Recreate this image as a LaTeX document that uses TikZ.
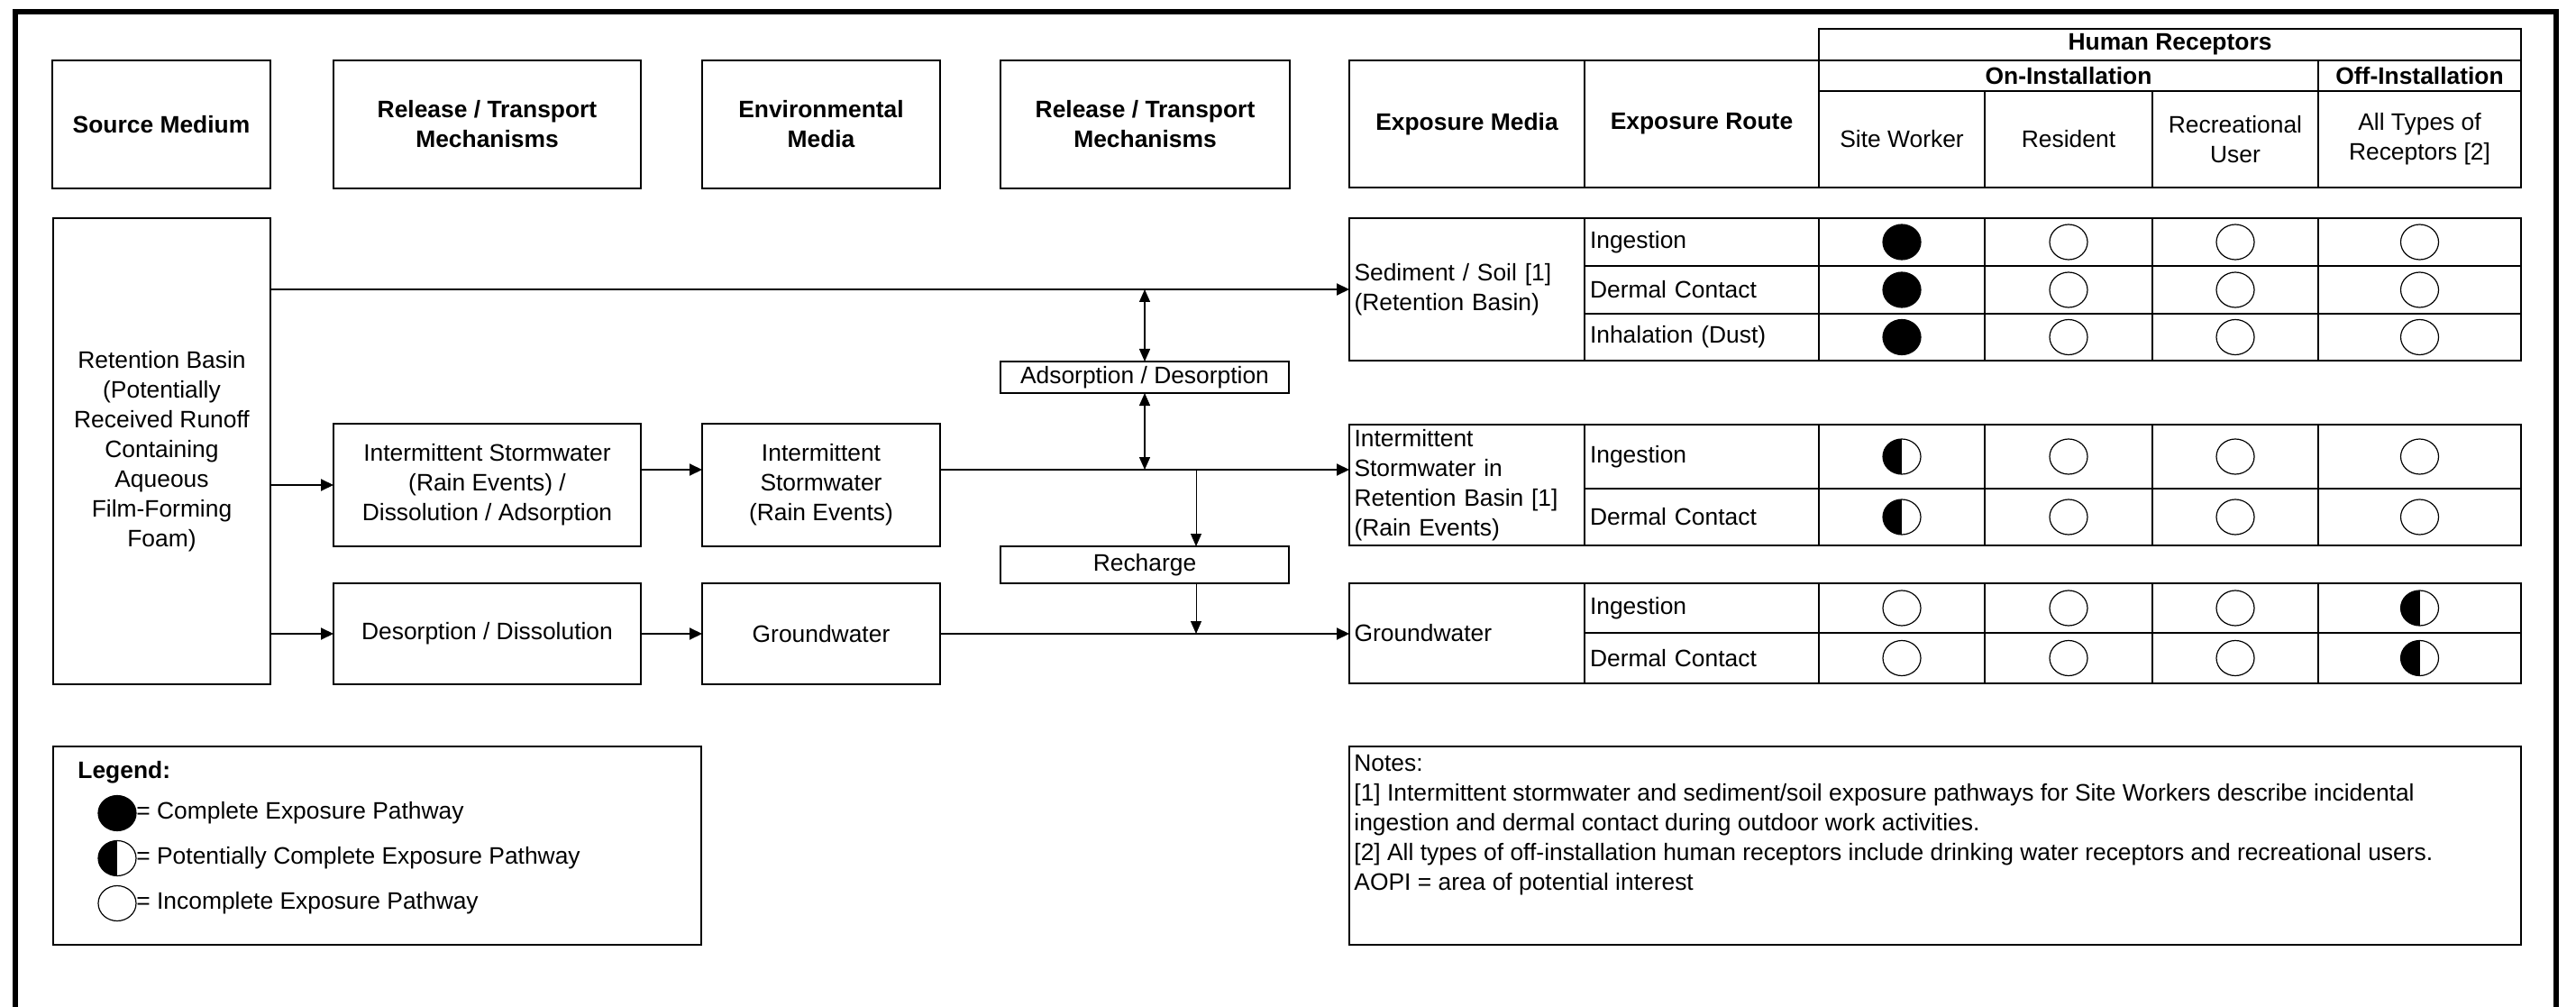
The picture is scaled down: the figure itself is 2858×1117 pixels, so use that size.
\documentclass[tikz,border=0pt]{standalone}
\usepackage{fontspec}
\setmainfont{Liberation Sans}
\usetikzlibrary{arrows.meta,shapes.geometric,calc}

\newcommand\basesize{\fontsize{13.2}{16.5}\selectfont}
% cell: options, name, x1, y1, x2, y2, text  (pixel-style coordinates)
\newcommand\cellat[7]{%
  \node[#1, minimum width={(#5-#3)*0.5pt}, minimum height={(#6-#4)*0.5pt}]
    (#2) at ({(#3+#5)/2},{(#4+#6)/2}) {#7};}
% one exposure-route row: name, y top, y bottom, route, four pathway marks
\newcommand\exprow[8]{%
  \cellat{rcell}{#1r}{1758}{#2}{2018}{#3}{#4}
  \cellat{box}{#1a}{2018}{#2}{2202}{#3}{}
  \cellat{box}{#1b}{2202}{#2}{2388}{#3}{}
  \cellat{box}{#1c}{2388}{#2}{2572}{#3}{}
  \cellat{box}{#1d}{2572}{#2}{2797}{#3}{}
  \node[#5] (#1ma) at (#1a) {};
  \node[#6] (#1mb) at (#1b) {};
  \node[#7] (#1mc) at (#1c) {};
  \node[#8] (#1md) at (#1d) {};}

\tikzset{
  box/.style={draw, line width=1.4pt, align=center, inner sep=2pt, outer sep=0pt},
  hdr/.style={box, font=\basesize\bfseries},
  mcell/.style={box, text width=125pt, inner xsep=2.5pt, align=left},
  rcell/.style={box, text width=124pt, inner xsep=3pt, align=left},
  flow/.style={line width=1pt, -{Triangle[length=7pt,width=6.5pt]}},
  thinflow/.style={line width=0.5pt, -{Triangle[length=7pt,width=6pt]}},
  twoway/.style={line width=0.7pt, {Triangle[length=7pt,width=6pt]}-{Triangle[length=7pt,width=6pt]}},
  pathmark/.style={draw, ellipse, line width=0.6pt, minimum width=21pt, minimum height=19.5pt, inner sep=0pt, outer sep=0pt},
  fullmark/.style={pathmark, fill=black},
  halfmark/.style={pathmark, fill=white, path picture={\fill[black] (path picture bounding box.south west) rectangle (path picture bounding box.north);}},
  nomark/.style={pathmark, fill=white},
}

\begin{document}
\begin{tikzpicture}[x=0.5pt, y=-0.5pt, font=\basesize]
\useasboundingbox (0,0) rectangle (2858,1117);

% outer frame (open at the bottom edge of the sheet)
\draw[line width=2.6pt] (17,1135) -- (17,13) -- (2836,13) -- (2836,1135);

% column headings
\cellat{hdr}{srchd}{58}{67}{300}{209}{Source Medium}
\cellat{hdr}{rel1hd}{370}{67}{711}{209}{Release / Transport\\Mechanisms}
\cellat{hdr}{envhd}{779}{67}{1043}{209}{Environmental\\Media}
\cellat{hdr}{rel2hd}{1110}{67}{1431}{209}{Release / Transport\\Mechanisms}

% receptor table heading
\cellat{hdr}{hrhd}{2018}{32}{2797}{67}{Human Receptors}
\cellat{hdr}{emhd}{1497}{67}{1758}{208}{Exposure Media}
\cellat{hdr}{erhd}{1758}{67}{2018}{208}{Exposure Route}
\cellat{hdr}{onhd}{2018}{67}{2572}{101}{On-Installation}
\cellat{hdr}{offhd}{2572}{67}{2797}{101}{Off-Installation}
\cellat{box}{swhd}{2018}{101}{2202}{208}{Site Worker}
\cellat{box}{reshd}{2202}{101}{2388}{208}{Resident}
\cellat{box}{rechd}{2388}{101}{2572}{208}{Recreational\\User}
\cellat{box}{allhd}{2572}{101}{2797}{208}{All Types of\\Receptors [2]}

% source and transport chain
\cellat{box}{ret}{59}{242}{300}{759}{Retention Basin\\(Potentially\\Received Runoff\\Containing\\Aqueous\\Film-Forming\\Foam)}
\cellat{box}{ismech}{370}{470}{711}{606}{Intermittent Stormwater\\(Rain Events) /\\Dissolution / Adsorption}
\cellat{box}{isenv}{779}{470}{1043}{606}{Intermittent\\Stormwater\\(Rain Events)}
\cellat{box}{desmech}{370}{647}{711}{759}{Desorption / Dissolution}
\cellat{box}{gwenv}{779}{647}{1043}{759}{Groundwater}
\cellat{box}{adsorb}{1110}{401}{1430}{436}{Adsorption / Desorption}
\cellat{box}{recharge}{1110}{606}{1430}{647}{Recharge}

% exposure media blocks
\cellat{mcell}{sedmed}{1497}{242}{1758}{400}{Sediment / Soil [1]\\(Retention Basin)}
\exprow{sed1}{242}{295}{Ingestion}{fullmark}{nomark}{nomark}{nomark}
\exprow{sed2}{295}{348}{Dermal Contact}{fullmark}{nomark}{nomark}{nomark}
\exprow{sed3}{348}{400}{Inhalation (Dust)}{fullmark}{nomark}{nomark}{nomark}

\cellat{mcell}{stmed}{1497}{471}{1758}{605}{Intermittent\\Stormwater in\\Retention Basin [1]\\(Rain Events)}
\exprow{st1}{471}{542}{Ingestion}{halfmark}{nomark}{nomark}{nomark}
\exprow{st2}{542}{605}{Dermal Contact}{halfmark}{nomark}{nomark}{nomark}

\cellat{mcell}{gwmed}{1497}{647}{1758}{758}{Groundwater}
\exprow{gw1}{647}{702}{Ingestion}{nomark}{nomark}{nomark}{halfmark}
\exprow{gw2}{702}{758}{Dermal Contact}{nomark}{nomark}{nomark}{halfmark}

% connectors
\draw[flow] (sedmed.west -| ret.east) -- (sedmed.west);
\draw[flow] (ismech.west -| ret.east) -- (ismech.west);
\draw[flow] (desmech.west -| ret.east) -- (desmech.west);
\coordinate (isin) at ([yshift=8.5pt]ismech.east);
\draw[flow] (isin) -- (isin -| isenv.west);
\coordinate (isout) at ([yshift=8.5pt]isenv.east);
\draw[flow] (isout) -- (isout -| stmed.west);
\draw[flow] (desmech.east) -- (gwenv.west);
\draw[flow] (gwenv.east) -- (gwenv.east -| gwmed.west);
\draw[twoway] (adsorb.north |- sedmed.west) -- (adsorb.north);
\draw[twoway] (adsorb.south) -- (adsorb.south |- isout);
\coordinate (rtap) at (1327,521);
\draw[thinflow] (rtap) -- (rtap |- recharge.north);
\draw[thinflow] (recharge.south -| rtap) -- (rtap |- gwenv.east);

% legend
\cellat{box}{legend}{59}{828}{778}{1048}{}
\node[anchor=west, inner sep=0pt, font=\basesize\bfseries] (legtitle) at (86,857) {Legend:};
\node[fullmark] (lg1) at (130,902) {};
\node[anchor=west, inner sep=0pt] (lt1) at (lg1.east) {= Complete Exposure Pathway};
\node[halfmark] (lg2) at (130,952) {};
\node[anchor=west, inner sep=0pt] (lt2) at (lg2.east) {= Potentially Complete Exposure Pathway};
\node[nomark] (lg3) at (130,1002) {};
\node[anchor=west, inner sep=0pt] (lt3) at (lg3.east) {= Incomplete Exposure Pathway};

% notes
\cellat{box}{notes}{1497}{828}{2797}{1048}{}
\node[anchor=north west, inner sep=0pt, align=left] (notetext) at (1502,837)
  {Notes:\\{}[1] Intermittent stormwater and sediment/soil exposure pathways for Site Workers describe incidental\\
   ingestion and dermal contact during outdoor work activities.\\
   {}[2] All types of off-installation human receptors include drinking water receptors and recreational users.\\
   AOPI = area of potential interest};
\end{tikzpicture}
\end{document}
